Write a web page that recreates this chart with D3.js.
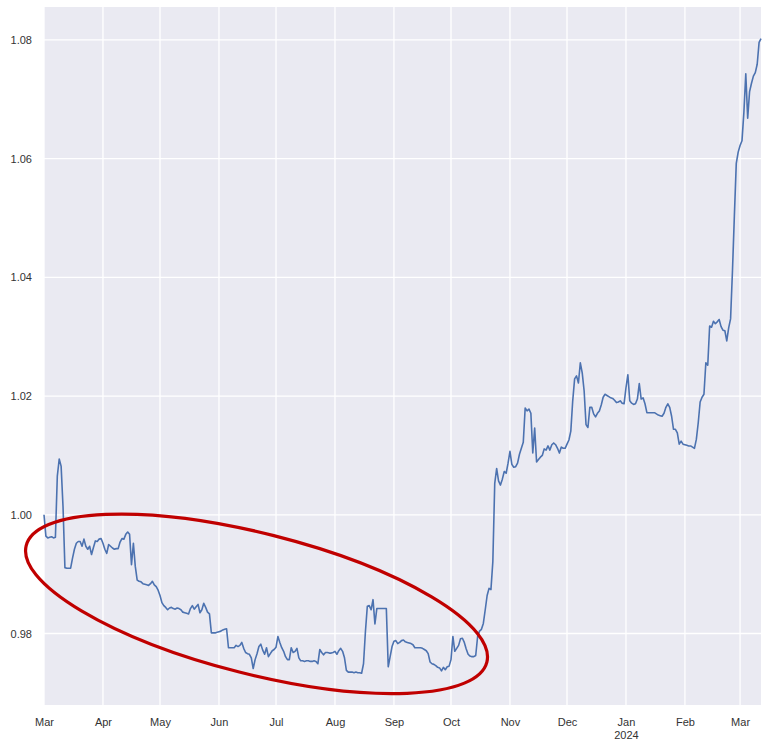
<!DOCTYPE html>
<html>
<head>
<meta charset="utf-8">
<script src="https://cdn.jsdelivr.net/npm/d3@7"></script>
<style>
    body { margin: 0; background: #ffffff; }
    #chart text {
        font-family: "Liberation Sans", Arial, sans-serif;
        font-size: 11px;
        fill: #333333;
    }
</style>
</head>
<body>
<div id="chart"></div>
<script>
// Daily values, one array per month (day 1 first)
const mar2023 = [1.0000, 0.9964, 0.9961, 0.9962, 0.9963, 0.9961, 0.9962, 1.0065, 1.0094, 1.0082,
    1.0014, 0.9911, 0.9910, 0.9910, 0.9910, 0.9927, 0.9942, 0.9952, 0.9955, 0.9955,
    0.9947, 0.9959, 0.9947, 0.9942, 0.9947, 0.9933, 0.9945, 0.9956, 0.9955, 0.9959, 0.9960];
const apr2023 = [0.9952, 0.9942, 0.9935, 0.9950, 0.9947, 0.9944, 0.9942, 0.9943, 0.9943, 0.9954,
    0.9960, 0.9959, 0.9967, 0.9971, 0.9967, 0.9916, 0.9952, 0.9913, 0.9890, 0.9888,
    0.9887, 0.9884, 0.9883, 0.9882, 0.9881, 0.9884, 0.9888, 0.9882, 0.9879, 0.9873];
const may2023 = [0.9864, 0.9852, 0.9847, 0.9844, 0.9840, 0.9843, 0.9844, 0.9842, 0.9841, 0.9843,
    0.9842, 0.9840, 0.9836, 0.9835, 0.9834, 0.9833, 0.9842, 0.9847, 0.9841, 0.9845,
    0.9849, 0.9835, 0.9840, 0.9851, 0.9844, 0.9836, 0.9833, 0.9801, 0.9801, 0.9801, 0.9802];
const jun2023 = [0.9803, 0.9804, 0.9806, 0.9807, 0.9808, 0.9776, 0.9776, 0.9776, 0.9776, 0.9780,
    0.9778, 0.9780, 0.9785, 0.9775, 0.9768, 0.9766, 0.9765, 0.9759, 0.9741, 0.9756,
    0.9766, 0.9778, 0.9782, 0.9772, 0.9765, 0.9776, 0.9761, 0.9766, 0.9771, 0.9773];
const jul2023 = [0.9777, 0.9795, 0.9785, 0.9776, 0.9770, 0.9761, 0.9756, 0.9756, 0.9776, 0.9768,
    0.9770, 0.9775, 0.9759, 0.9754, 0.9754, 0.9753, 0.9754, 0.9754, 0.9753, 0.9753,
    0.9754, 0.9753, 0.9749, 0.9773, 0.9768, 0.9764, 0.9768, 0.9768, 0.9767, 0.9767, 0.9768];
const aug2023 = [0.9770, 0.9765, 0.9771, 0.9775, 0.9770, 0.9759, 0.9738, 0.9735, 0.9735, 0.9735,
    0.9734, 0.9735, 0.9734, 0.9734, 0.9733, 0.9749, 0.9803, 0.9846, 0.9847, 0.9840,
    0.9857, 0.9816, 0.9842, 0.9842, 0.9842, 0.9842, 0.9842, 0.9842, 0.9744, 0.9761, 0.9778];
const sep2023 = [0.9787, 0.9788, 0.9783, 0.9785, 0.9788, 0.9789, 0.9786, 0.9785, 0.9784, 0.9783,
    0.9781, 0.9776, 0.9776, 0.9776, 0.9776, 0.9775, 0.9773, 0.9771, 0.9766, 0.9752,
    0.9749, 0.9748, 0.9746, 0.9743, 0.9742, 0.9737, 0.9743, 0.9739, 0.9744, 0.9745];
const oct2023 = [0.9756, 0.9795, 0.9770, 0.9775, 0.9780, 0.9791, 0.9792, 0.9785, 0.9774, 0.9765,
    0.9762, 0.9761, 0.9761, 0.9763, 0.9795, 0.9804, 0.9807, 0.9817, 0.9840, 0.9864,
    0.9876, 0.9874, 0.9921, 1.0053, 1.0078, 1.0057, 1.0050, 1.0060, 1.0073, 1.0070, 1.0087];
const nov2023 = [1.0107, 1.0085, 1.0080, 1.0081, 1.0087, 1.0102, 1.0112, 1.0122, 1.0180, 1.0175,
    1.0178, 1.0171, 1.0104, 1.0146, 1.0089, 1.0093, 1.0097, 1.0100, 1.0111, 1.0109,
    1.0116, 1.0109, 1.0118, 1.0121, 1.0118, 1.0112, 1.0104, 1.0114, 1.0112, 1.0112];
const dec2023 = [1.0119, 1.0126, 1.0141, 1.0192, 1.0229, 1.0234, 1.0222, 1.0256, 1.0239, 1.0209,
    1.0152, 1.0147, 1.0181, 1.0181, 1.0170, 1.0165, 1.0171, 1.0175, 1.0185, 1.0198,
    1.0203, 1.0201, 1.0199, 1.0197, 1.0196, 1.0193, 1.0189, 1.0190, 1.0192, 1.0188, 1.0187];
const jan2024 = [1.0214, 1.0236, 1.0192, 1.0188, 1.0186, 1.0187, 1.0195, 1.0221, 1.0195, 1.0197,
    1.0187, 1.0172, 1.0172, 1.0172, 1.0172, 1.0172, 1.0170, 1.0168, 1.0167, 1.0166,
    1.0171, 1.0181, 1.0187, 1.0181, 1.0166, 1.0144, 1.0144, 1.0138, 1.0119, 1.0124, 1.0119];
const feb2024 = [1.0118, 1.0117, 1.0116, 1.0116, 1.0114, 1.0112, 1.0127, 1.0155, 1.0190, 1.0198,
    1.0203, 1.0256, 1.0252, 1.0318, 1.0316, 1.0326, 1.0322, 1.0325, 1.0329, 1.0317,
    1.0311, 1.0310, 1.0293, 1.0315, 1.0330, 1.0411, 1.0504, 1.0592, 1.0611];
const mar2024 = [1.0622, 1.0630, 1.0678, 1.0743, 1.0668, 1.0713, 1.0727, 1.0739, 1.0745, 1.0759,
    1.0796, 1.0802];

const months = ['2023-03', '2023-04', '2023-05', '2023-06', '2023-07', '2023-08', '2023-09',
    '2023-10', '2023-11', '2023-12', '2024-01', '2024-02', '2024-03'];
const monthValues = [mar2023, apr2023, may2023, jun2023, jul2023, aug2023, sep2023,
    oct2023, nov2023, dec2023, jan2024, feb2024, mar2024];

// Axis ticks
const tickDates = ['2023-03-01', '2023-04-01', '2023-05-01', '2023-06-01', '2023-07-01',
    '2023-08-01', '2023-09-01', '2023-10-01', '2023-11-01', '2023-12-01', '2024-01-01',
    '2024-02-01', '2024-03-01'];
const tickLabels = ['Mar', 'Apr', 'May', 'Jun', 'Jul', 'Aug', 'Sep', 'Oct', 'Nov', 'Dec',
    'Jan\n2024', 'Feb', 'Mar'];
const yTicks = [0.98, 1.00, 1.02, 1.04, 1.06, 1.08];

// Highlight ellipse (centre in data units)
const highlightCenter = { date: '2023-06-20T18:00', value: 0.9850 };

const parseDate = d3.timeParse('%Y-%m-%d');
const parseStamp = d3.timeParse('%Y-%m-%dT%H:%M');

const series = [];
months.forEach((m, i) => {
    const start = parseDate(m + '-01');
    monthValues[i].forEach((v, day) => {
        series.push({ date: d3.timeDay.offset(start, day), value: v });
    });
});

// Set up dimensions
const margin = { top: 7, right: 12, bottom: 40, left: 44 };
const fullWidth = 773;
const fullHeight = 745;
const width = fullWidth - margin.left - margin.right;
const height = fullHeight - margin.top - margin.bottom;

const svg = d3.select('#chart')
    .append('svg')
    .attr('width', fullWidth)
    .attr('height', fullHeight)
    .append('g')
    .attr('transform', `translate(${margin.left},${margin.top})`);

// Scales (matplotlib-like 5% vertical margin)
const xScale = d3.scaleTime()
    .domain(d3.extent(series, d => d.date))
    .range([0, width]);

const [yMin, yMax] = d3.extent(series, d => d.value);
const pad = (yMax - yMin) * 0.05;
const yScale = d3.scaleLinear()
    .domain([yMin - pad, yMax + pad])
    .range([height, 0]);

// Plot background
svg.append('rect')
    .attr('width', width)
    .attr('height', height)
    .attr('fill', '#eaeaf2');

// Grid lines
svg.append('g')
    .selectAll('line')
    .data(tickDates.map(parseDate))
    .enter()
    .append('line')
    .attr('x1', d => xScale(d))
    .attr('x2', d => xScale(d))
    .attr('y1', 0)
    .attr('y2', height)
    .attr('stroke', '#ffffff')
    .attr('stroke-width', 1.3);

svg.append('g')
    .selectAll('line')
    .data(yTicks)
    .enter()
    .append('line')
    .attr('x1', 0)
    .attr('x2', width)
    .attr('y1', d => yScale(d))
    .attr('y2', d => yScale(d))
    .attr('stroke', '#ffffff')
    .attr('stroke-width', 1.3);

// Axes (no tick marks, no domain line)
const xAxis = svg.append('g')
    .attr('transform', `translate(0,${height})`)
    .call(d3.axisBottom(xScale)
        .tickValues(tickDates.map(parseDate))
        .tickSize(0)
        .tickPadding(13)
        .tickFormat(''));
xAxis.select('.domain').remove();
xAxis.selectAll('.tick text')
    .each(function(d, i) {
        const lines = tickLabels[i].split('\n');
        const t = d3.select(this);
        lines.forEach((s, k) => {
            t.append('tspan')
                .attr('x', 0)
                .attr('dy', k === 0 ? '0.71em' : '1.2em')
                .text(s);
        });
    });

const yAxis = svg.append('g')
    .call(d3.axisLeft(yScale)
        .tickValues(yTicks)
        .tickSize(0)
        .tickPadding(12)
        .tickFormat(d3.format('.2f')));
yAxis.select('.domain').remove();

// Series line
const line = d3.line()
    .x(d => xScale(d.date))
    .y(d => yScale(d.value));

svg.append('path')
    .datum(series)
    .attr('d', line)
    .attr('fill', 'none')
    .attr('stroke', '#4c72b0')
    .attr('stroke-width', 1.6)
    .attr('stroke-linejoin', 'round');

// Highlight ellipse
const cx = xScale(parseStamp(highlightCenter.date));
const cy = yScale(highlightCenter.value);
svg.append('ellipse')
    .attr('cx', cx)
    .attr('cy', cy)
    .attr('rx', 237.6)
    .attr('ry', 70.4)
    .attr('transform', `rotate(14.2,${cx},${cy})`)
    .attr('fill', 'none')
    .attr('stroke', '#c00000')
    .attr('stroke-width', 3.2);
</script>
</body>
</html>
